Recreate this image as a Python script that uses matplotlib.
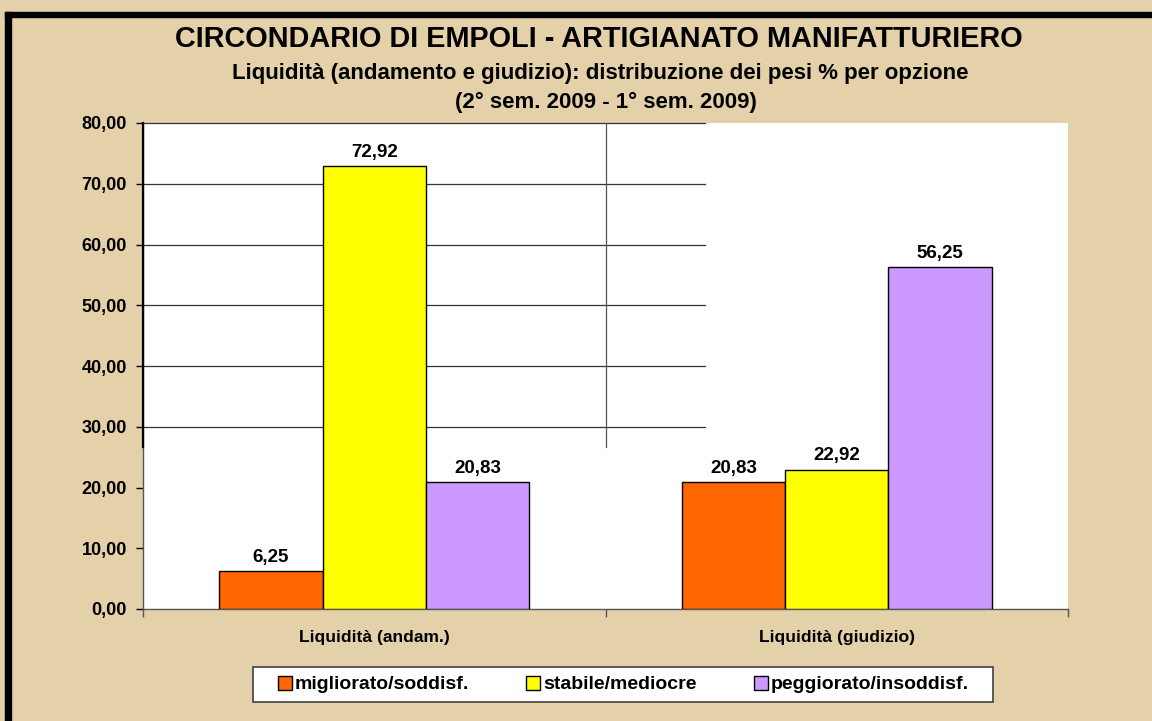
import matplotlib.pyplot as plt
from matplotlib.patches import Rectangle
import numpy as np

plt.rcParams['font.family'] = ['Liberation Sans', 'DejaVu Sans']
plt.rcParams['font.weight'] = 'bold'

categories = ['Liquidità (andam.)', 'Liquidità (giudizio)']
series_names = ['migliorato/soddisf.', 'stabile/mediocre', 'peggiorato/insoddisf.']
migliorato = [6.25, 20.83]
stabile = [72.92, 22.92]
peggiorato = [20.83, 56.25]
y_ticks = [0, 10, 20, 30, 40, 50, 60, 70, 80]

colors = ['#FF6600', '#FFFF00', '#CC99FF']
bg = '#E4D1AA'
W, H = 1152, 721

fig = plt.figure(figsize=(W / 100, H / 100), dpi=100)
fig.patch.set_facecolor(bg)

# black frame (top + left only, the rest is cropped off)
fig.add_artist(Rectangle((5 / W, 1 - 17 / H), 1, 5 / H, transform=fig.transFigure,
                         color='black', zorder=10))
fig.add_artist(Rectangle((5 / W, 0), 6 / W, 1 - 12 / H, transform=fig.transFigure,
                         color='black', zorder=10))

ax = fig.add_axes([143 / W, 1 - 609 / H, 925 / W, 486 / H])
ax.set_facecolor('white')

x = np.arange(len(categories))
w = 0.2236
for i, (vals, name) in enumerate(zip([migliorato, stabile, peggiorato], series_names)):
    pos = x + (i - 1) * w
    bars = ax.bar(pos, vals, w, color=colors[i], edgecolor='black', linewidth=1.0,
                  label=name, zorder=3)
    for b, v in zip(bars, vals):
        ax.text(b.get_x() + b.get_width() / 2, v + 0.9, f'{v:.2f}'.replace('.', ','),
                ha='center', va='bottom', fontsize=13.5, fontweight='bold')

ax.set_xlim(-0.5, 1.5)
ax.set_ylim(0, 80)

# partial grid as in the source picture
for yv in y_ticks[3:]:
    ax.plot([-0.5, 0.715], [yv, yv], color='#333333', linewidth=0.9, zorder=1, clip_on=False)
ax.plot([0.5, 0.5], [26.7, 80], color='#555555', linewidth=0.9, zorder=1)
ax.plot([-0.5, -0.5], [26.7, 80], color='black', linewidth=1.6, zorder=4, clip_on=False)

for s in ['top', 'right']:
    ax.spines[s].set_visible(False)
ax.spines['left'].set_color('#555555')
ax.spines['left'].set_linewidth(1.0)
ax.spines['bottom'].set_color('#555555')
ax.spines['bottom'].set_linewidth(1.0)

ax.set_yticks(y_ticks)
ax.set_yticklabels([f'{v:.2f}'.replace('.', ',') for v in y_ticks], fontsize=13, fontweight='bold')
ax.tick_params(axis='y', length=5, width=1, direction='out', pad=6.5)

ax.set_xticks([-0.5, 0.5, 1.5])
ax.set_xticklabels([])
ax.tick_params(axis='x', which='major', length=6, width=1, color='#555555', direction='out')
ax.set_xticks(x, minor=True)
ax.set_xticklabels(categories, minor=True, fontsize=12.6, fontweight='bold')
ax.tick_params(axis='x', which='minor', length=0, pad=15)

fig.text(599 / W, 1 - 39 / H, 'CIRCONDARIO DI EMPOLI - ARTIGIANATO MANIFATTURIERO',
         ha='center', va='center', fontsize=20.8, fontweight='bold')
fig.text(600 / W, 1 - 73 / H,
         'Liquidità (andamento e giudizio): distribuzione dei pesi % per opzione',
         ha='center', va='center', fontsize=16, fontweight='bold')
fig.text(606 / W, 1 - 102 / H, '(2° sem. 2009 - 1° sem. 2009)',
         ha='center', va='center', fontsize=16, fontweight='bold')

# legend box drawn by hand, entries placed inside it
fig.add_artist(Rectangle((253 / W, 1 - 702 / H), 740 / W, 35 / H, transform=fig.transFigure,
                         facecolor='white', edgecolor='#404040', linewidth=1.2, zorder=5))
leg = fig.legend(loc='center', bbox_to_anchor=(623.5 / W, 1 - 684.5 / H), ncol=3,
                 fontsize=14, frameon=False, handlelength=0.72, handleheight=0.72,
                 handletextpad=0.15, columnspacing=2.93, borderpad=0.0)
leg.set_zorder(6)
for t in leg.get_texts():
    t.set_fontweight('bold')

fig.savefig('out.png', dpi=100, facecolor=fig.get_facecolor())
